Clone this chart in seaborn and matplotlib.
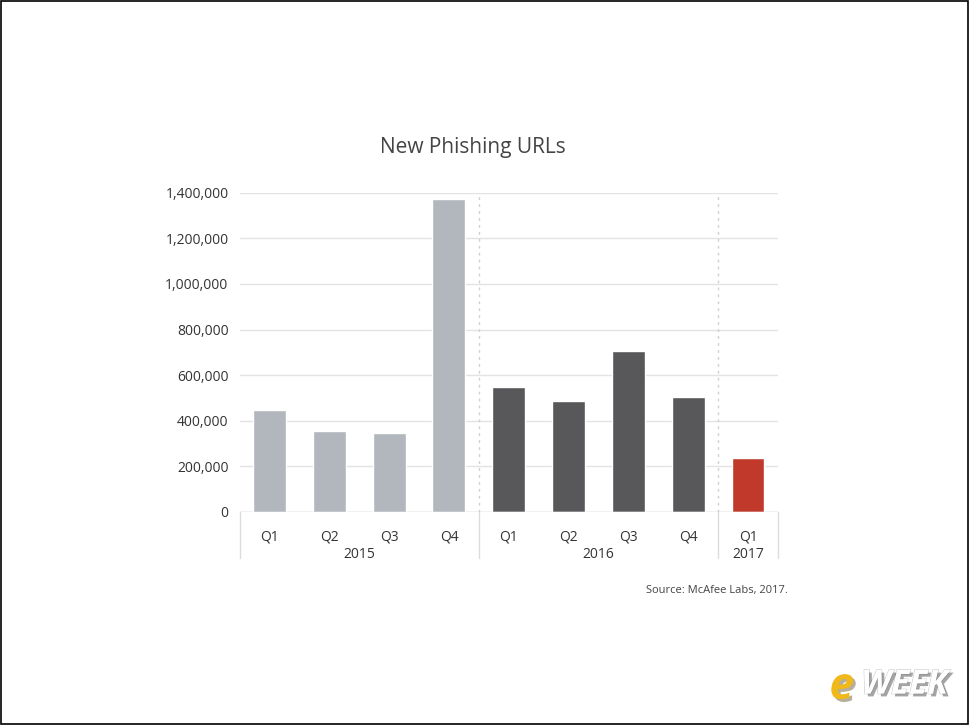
import matplotlib
matplotlib.use("Agg")
import matplotlib.pyplot as plt
import matplotlib.patheffects as pe
import seaborn as sns
import pandas as pd

quarters = ["Q1", "Q2", "Q3", "Q4", "Q1", "Q2", "Q3", "Q4", "Q1"]
years = ["2015"] * 4 + ["2016"] * 4 + ["2017"]
urls = [447000, 355000, 347000, 1373000, 548000, 487000, 706000, 504000, 237000]
year_colors = {"2015": "#b1b7bd", "2016": "#58585a", "2017": "#c0392b"}

df = pd.DataFrame({"slot": range(len(urls)), "quarter": quarters, "year": years, "urls": urls})

sns.set_style("white")
plt.rcParams["font.family"] = ["Open Sans", "DejaVu Sans"]

fig = plt.figure(figsize=(9.7, 7.25), dpi=100)
ax = fig.add_axes([0.247, 0.294, 0.555, 0.44])

sns.barplot(data=df, x="slot", y="urls", hue="year", palette=year_colors,
            width=0.55, dodge=False, legend=False, saturation=1, ax=ax, zorder=3)

ax.set_ylim(0, 1400000)
ax.set_xlim(-0.5, len(urls) - 0.5)
ax.set_yticks(range(0, 1400001, 200000))
ax.set_yticklabels([f"{v:,}" for v in range(0, 1400001, 200000)], fontsize=10, color="#333333")
ax.yaxis.grid(True, color="#e3e3e3", lw=1, zorder=0)
ax.tick_params(axis="y", length=0, pad=8)
for s in ax.spines.values():
    s.set_visible(False)
ax.axhline(0, color="#d8d8d8", lw=1, zorder=4)
ax.set_xlabel("")
ax.set_ylabel("")
ax.set_xticks(range(len(urls)))
ax.set_xticklabels(quarters, fontsize=10, color="#333333")
ax.tick_params(axis="x", length=0, pad=13)

# year separators
for xpos in [3.5, 7.5]:
    ax.axvline(xpos, color="#d0d0d0", lw=1, ls=(0, (2, 3)), zorder=1)
for xpos in [-0.5, 3.5, 7.5, 8.5]:
    ax.plot([xpos, xpos], [0, -0.145], transform=ax.get_xaxis_transform(),
            color="#dcdcdc", lw=1, clip_on=False)
for label, center in [("2015", 1.5), ("2016", 5.5), ("2017", 8)]:
    ax.text(center, -0.133, label, transform=ax.get_xaxis_transform(),
            ha="center", va="center", fontsize=10, color="#333333")

fig.text(0.487, 0.796, "New Phishing URLs", ha="center", va="center",
         fontsize=15, color="#444444")
fig.text(0.812, 0.186, "Source: McAfee Labs, 2017.", ha="right", va="center",
         fontsize=8, color="#444444")

# eWEEK logo
fig.text(0.855, 0.052, "e", fontsize=32, fontweight="bold", style="italic",
         color="#f0b818", ha="left", va="center",
         path_effects=[pe.withSimplePatchShadow(offset=(2, -2), alpha=0.4)])
fig.text(0.888, 0.055, "WEEK", fontsize=24, fontweight="bold", style="italic",
         color="white", ha="left", va="center",
         path_effects=[pe.withStroke(linewidth=1, foreground="#cccccc"),
                       pe.withSimplePatchShadow(offset=(2, -2), alpha=0.5)])

# outer frame
fig.patches.append(plt.Rectangle((0.001, 0.001), 0.997, 0.997, transform=fig.transFigure,
                                 fill=False, edgecolor="black", lw=1.2))

fig.savefig("out.png", dpi=100)
